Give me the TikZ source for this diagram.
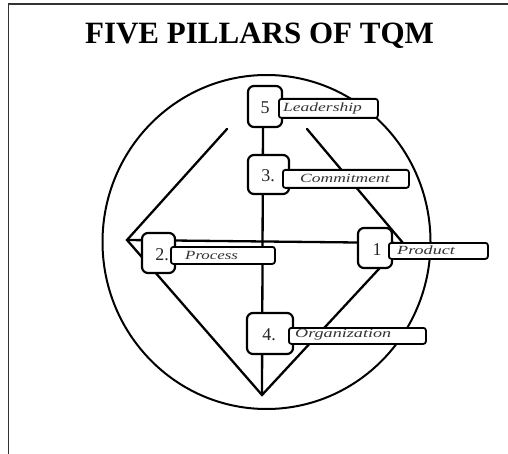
\documentclass[tikz,border=0pt]{standalone}
\usepackage{fontspec}
\setmainfont{Liberation Serif}
\begin{document}
\begin{tikzpicture}[x=1pt,y=-1pt,
  frame/.style={line width=1.6pt, draw=black!80},
  rim/.style={line width=2pt},
  strut/.style={line width=2.3pt, line cap=round, line join=miter},
  numbox/.style={draw, line width=2.2pt, rounded corners=6pt, fill=white, inner sep=0pt},
  lblbox/.style={draw, line width=1.8pt, rounded corners=2.5pt, fill=white, inner sep=0pt, anchor=north west},
  numtext/.style={inner sep=0pt, text=black!85, font=\fontsize{18}{18}\selectfont},
  lbltext/.style={inner sep=0pt, anchor=west, text=black!80, font=\fontsize{12.5}{12.5}\selectfont\itshape}]
\useasboundingbox (0,0) rectangle (508,454);

% frame (left and top edges only)
\draw[frame] (8.5,454) -- (8.5,4) -- (508,4);

% title
\node[font=\fontsize{31}{31}\selectfont\bfseries, anchor=base] (title) at (259.5,44) {FIVE PILLARS OF TQM};

% outer ring
\coordinate (O) at (266.5,242);
\draw[rim] (O) ellipse [x radius=164, y radius=167];

% diamond vertices and free ends
\coordinate (L)  at (127,240);
\coordinate (R)  at (403,243);
\coordinate (B)  at (262,395);
\coordinate (UL) at (227,129);
\coordinate (UR) at (307,129);
\coordinate (VT) at (263,120);

\draw[strut] (UL) -- (L) -- (B) -- (R) -- (UR);
\draw[strut] (L) -- (R);
\draw[strut] (VT) -- (B);

% pillar boxes
\node[numbox, minimum width=34, minimum height=41] (n5) at (265,106.5) {};
\node[numbox, minimum width=41, minimum height=39] (n3) at (268.5,174.5) {};
\node[numbox, minimum width=33, minimum height=40] (n2) at (158.5,253) {};
\node[numbox, minimum width=34, minimum height=40] (n1) at (375,248) {};
\node[numbox, minimum width=46, minimum height=41] (n4) at (270,333.5) {};

% label bars
\node[lblbox, minimum width=99,  minimum height=19] (b5) at (278,98) {};
\node[lblbox, minimum width=126, minimum height=18] (b3) at (282,169) {};
\node[lblbox, minimum width=104, minimum height=17] (b2) at (170,246) {};
\node[lblbox, minimum width=99,  minimum height=16] (b1) at (388,242) {};
\node[lblbox, minimum width=137, minimum height=16] (b4) at (288,327) {};

% numbers
\node[numtext] (t5) at (265,108) {5};
\node[numtext] (t3) at (268,176) {3.};
\node[numtext] (t2) at (162,255) {2.};
\node[numtext] (t1) at (377,250) {1};
\node[numtext] (t4) at (269,335) {4.};

% label texts
\node[lbltext] (l5) at (283,108) {\scalebox{1.4}[1]{Leadership}};
\node[lbltext] (l3) at (300,178) {\scalebox{1.4}[1]{Commitment}};
\node[lbltext] (l2) at (185,255) {\scalebox{1.35}[1]{Process}};
\node[lbltext] (l1) at (397,250) {\scalebox{1.45}[1]{Product}};
\node[lbltext] (l4) at (295,335) {\scalebox{1.45}[1]{Organization}};
\end{tikzpicture}
\end{document}
